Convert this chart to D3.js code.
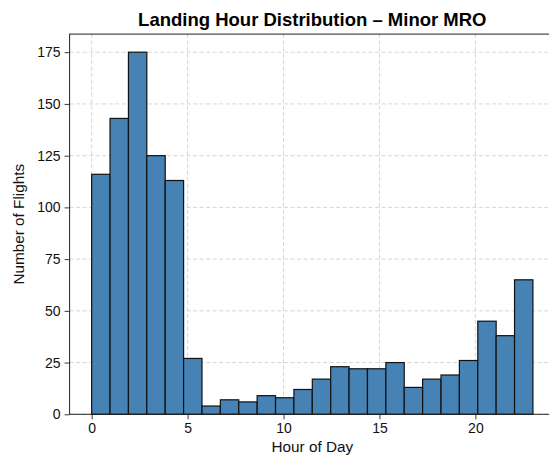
<!DOCTYPE html>
<html>
<head>
<meta charset="utf-8">
<script src="https://cdn.jsdelivr.net/npm/d3@7"></script>
<style>
  body { margin: 0; background: #fff; }
  svg { display: block; font-family: "Liberation Sans", Arial, sans-serif; }
</style>
</head>
<body>
<div id="app"></div>
<script>
// histogram counts, 24 bins over hours 0..23
const counts = [116, 143, 175, 125, 113, 27, 4, 7, 6, 9, 8, 12, 17, 23, 22, 22, 25, 13, 17, 19, 26, 45, 38, 65];
const hourRange = [0, 23];
const xTicks = [0, 5, 10, 15, 20];
const yTicks = [0, 25, 50, 75, 100, 125, 150, 175];
const titleText = 'Landing Hour Distribution \u2013 Minor MRO';
const xLabel = 'Hour of Day';
const yLabel = 'Number of Flights';

const width = 549;
const height = 456;
const plot = { left: 69.6, right: 555, top: 34.1, bottom: 414.3 };
const barFill = '#4682b4';
const gridColor = '#d0d0d0';

const binWidth = (hourRange[1] - hourRange[0]) / counts.length;
const bins = counts.map((c, i) => ({
  x0: hourRange[0] + i * binWidth,
  x1: hourRange[0] + (i + 1) * binWidth,
  count: c,
}));

const pad = (hourRange[1] - hourRange[0]) * 0.05;
const xScale = d3.scaleLinear()
  .domain([hourRange[0] - pad, hourRange[1] + pad])
  .range([plot.left, plot.right]);
const yScale = d3.scaleLinear()
  .domain([0, d3.max(counts) * 1.05])
  .range([plot.bottom, plot.top]);

const svg = d3.select('#app')
  .append('svg')
  .attr('width', width)
  .attr('height', height);

// grid
const grid = svg.append('g').attr('class', 'grid');
grid.selectAll('.gx')
  .data(xTicks)
  .enter()
  .append('line')
  .attr('x1', d => xScale(d))
  .attr('x2', d => xScale(d))
  .attr('y1', plot.top)
  .attr('y2', plot.bottom)
  .attr('stroke', gridColor)
  .attr('stroke-width', 0.9)
  .attr('stroke-dasharray', '4,2.5');
grid.selectAll('.gy')
  .data(yTicks)
  .enter()
  .append('line')
  .attr('x1', plot.left)
  .attr('x2', plot.right)
  .attr('y1', d => yScale(d))
  .attr('y2', d => yScale(d))
  .attr('stroke', gridColor)
  .attr('stroke-width', 0.9)
  .attr('stroke-dasharray', '4,2.5');

// bars
svg.append('g')
  .selectAll('rect')
  .data(bins)
  .enter()
  .append('rect')
  .attr('x', d => xScale(d.x0))
  .attr('width', d => xScale(d.x1) - xScale(d.x0))
  .attr('y', d => yScale(d.count))
  .attr('height', d => yScale(0) - yScale(d.count))
  .attr('fill', barFill)
  .attr('stroke', '#111')
  .attr('stroke-width', 1.2);

// axes
const xAxis = svg.append('g')
  .attr('transform', `translate(0,${plot.bottom})`)
  .call(d3.axisBottom(xScale).tickValues(xTicks).tickSize(5).tickPadding(4));
const yAxis = svg.append('g')
  .attr('transform', `translate(${plot.left},0)`)
  .call(d3.axisLeft(yScale).tickValues(yTicks).tickSize(5).tickPadding(4));

[xAxis, yAxis].forEach((ax) => {
  ax.select('.domain').remove();
  ax.selectAll('text')
    .attr('font-size', 14)
    .attr('font-family', '"Liberation Sans", Arial, sans-serif')
    .attr('fill', '#111');
  ax.selectAll('line').attr('stroke', '#222').attr('stroke-width', 0.9);
});

// spines
svg.append('rect')
  .attr('x', plot.left)
  .attr('y', plot.top)
  .attr('width', plot.right - plot.left)
  .attr('height', plot.bottom - plot.top)
  .attr('fill', 'none')
  .attr('stroke', '#222')
  .attr('stroke-width', 1);

// title and labels
svg.append('text')
  .attr('x', (plot.left + plot.right) / 2)
  .attr('y', 25.5)
  .attr('text-anchor', 'middle')
  .attr('font-size', 18.5)
  .attr('font-weight', 'bold')
  .attr('fill', '#000')
  .text(titleText);

svg.append('text')
  .attr('x', (plot.left + plot.right) / 2)
  .attr('y', 452)
  .attr('text-anchor', 'middle')
  .attr('font-size', 15.3)
  .attr('fill', '#111')
  .text(xLabel);

svg.append('text')
  .attr('transform', `translate(24,${(plot.top + plot.bottom) / 2}) rotate(-90)`)
  .attr('text-anchor', 'middle')
  .attr('font-size', 15.3)
  .attr('fill', '#111')
  .text(yLabel);
</script>
</body>
</html>
